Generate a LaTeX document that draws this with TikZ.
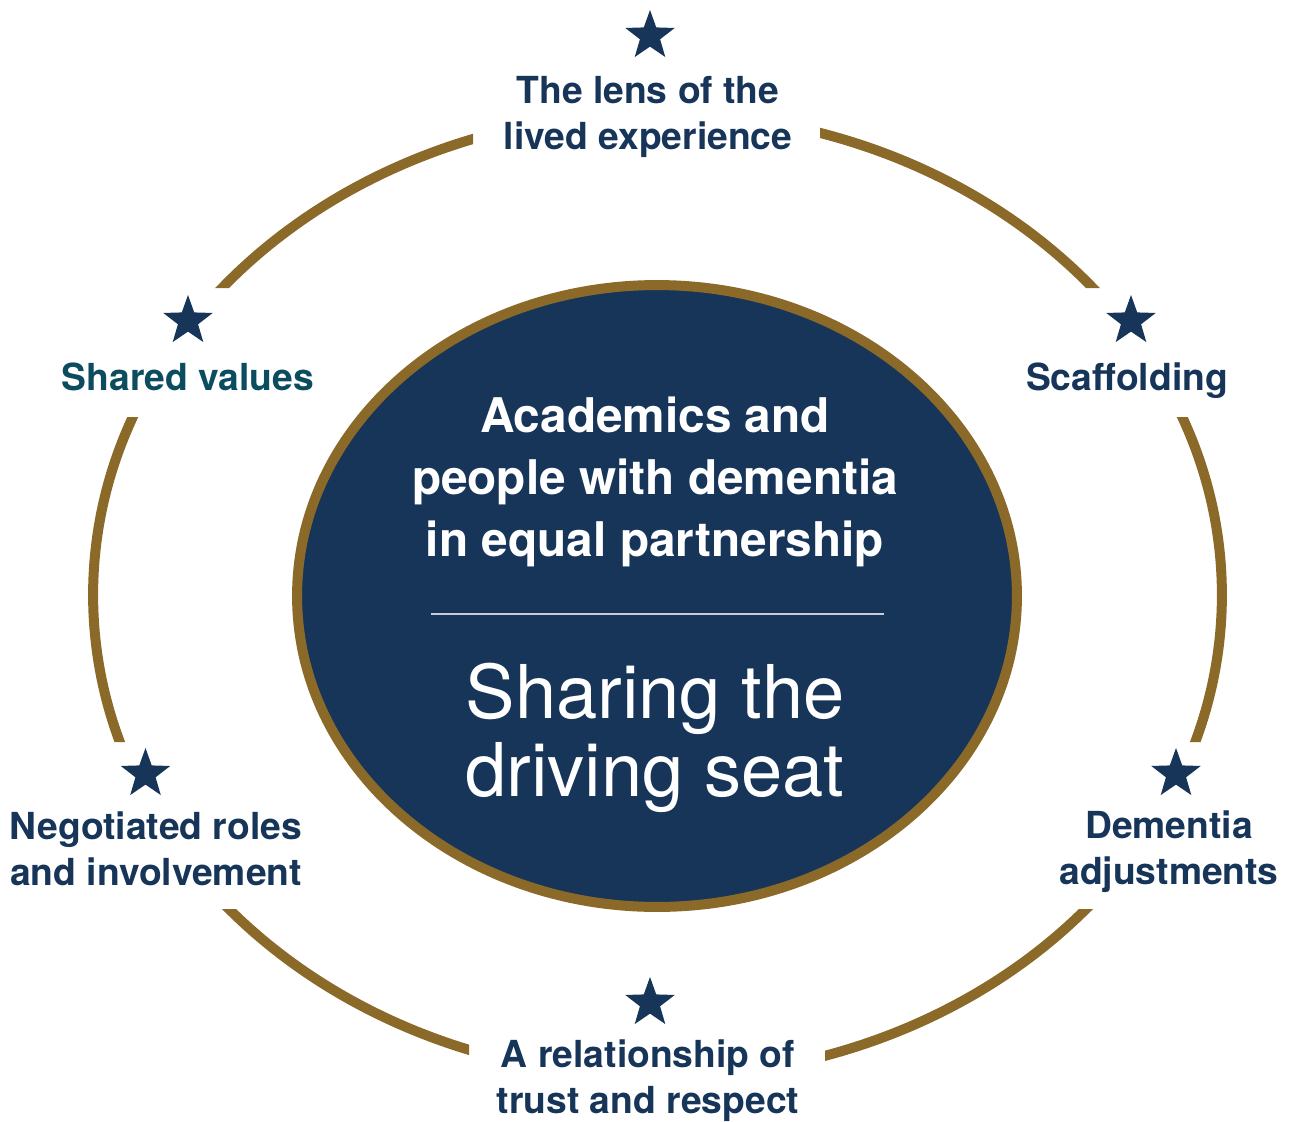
\documentclass[tikz,border=0pt]{standalone}
\usepackage{fontspec}
\setmainfont{TeX Gyre Heros}
\usetikzlibrary{shapes.geometric}

\definecolor{navy}{RGB}{22,53,89}
\definecolor{sharedteal}{RGB}{11,76,95}
\definecolor{gold}{RGB}{139,106,41}
\definecolor{rulegrey}{RGB}{200,205,212}

\tikzset{
	ring/.style={draw=gold, line width=0.2cm},
	hub/.style={ellipse, draw=gold, line width=0.2cm, fill=navy, minimum width=14.4cm, minimum height=12.44cm, inner sep=0pt},
	pip/.style={star, star points=5, star point ratio=2.45, fill=navy, minimum size=1.04cm, inner sep=0pt},
	theme/.style={text=navy, align=center, inner sep=0pt, font=\bfseries\fontsize{21.2}{26}\selectfont},
	core/.style={text=white, align=center, inner sep=0pt, font=\bfseries\fontsize{27.2}{35.3}\selectfont},
	motto/.style={text=white, align=center, inner sep=0pt, font=\fontsize{42.2}{44.4}\selectfont}
}

\begin{document}
\begin{tikzpicture}[x=0.02cm, y=-0.02cm]
			%%%%% START %%%%%
			\useasboundingbox (0, 0) rectangle (1291, 1122);
			
			% outer ring, broken where the labels sit
			\begin{scope}
				\clip (0, 0) rectangle (473, 288) (820, 0) rectangle (1291, 288)
				      (0, 417) rectangle (1291, 742)
				      (0, 909) rectangle (469, 1122) (825, 909) rectangle (1291, 1122);
				\draw[ring] (657.5, 595) ellipse [x radius=11.29cm, y radius=9.65cm];
			\end{scope}
			
			% centre
			\node[hub] (hub) at (657, 596) {};
			\node[core] (partners) at (655, 482) {Academics and\\people with dementia\\in equal partnership};
			\draw[rulegrey, line width=0.04cm] (431, 614) -- (884, 614);
			\node[motto] (seat) at (655, 738) {Sharing the\\driving seat};
			
			% stars and labels
			\node[pip] (lens star) at (650, 36) {};
			\node[theme] (lens) at (648, 117) {The lens of the\\lived experience};
			
			\node[pip] (values star) at (188, 321) {};
			\node[theme, text=sharedteal] (values) at (188, 377) {Shared values};
			
			\node[pip] (scaffold star) at (1131, 321) {};
			\node[theme] (scaffold) at (1127, 381) {Scaffolding};
			
			\node[pip] (roles star) at (145.5, 774) {};
			\node[theme] (roles) at (156, 849) {Negotiated roles\\and involvement};
			
			\node[pip] (adjust star) at (1176, 774) {};
			\node[theme] (adjust) at (1169, 852) {Dementia\\adjustments};
			
			\node[pip] (trust star) at (650, 1003) {};
			\node[theme] (trust) at (648, 1081) {A relationship of\\trust and respect};
			%%%%% END %%%%%
\end{tikzpicture}
\end{document}
